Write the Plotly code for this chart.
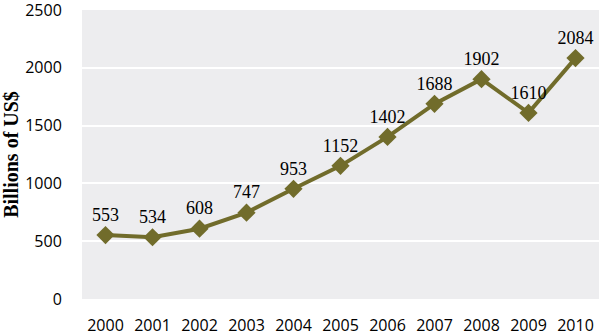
import plotly.graph_objects as go

years = ["2000", "2001", "2002", "2003", "2004", "2005", "2006", "2007", "2008", "2009", "2010"]
values = [553, 534, 608, 747, 953, 1152, 1402, 1688, 1902, 1610, 2084]
y_ticks = [0, 500, 1000, 1500, 2000, 2500]

color = "#716C2B"

fig = go.Figure()
fig.add_trace(go.Scatter(
    x=years, y=values, mode="lines+markers+text",
    line=dict(color=color, width=4),
    marker=dict(symbol="diamond", size=14, color=color),
    text=[str(v) for v in values], textposition="top center",
    textfont=dict(family="Liberation Serif", size=18, color="#000"),
    cliponaxis=False, showlegend=False,
))
fig.update_layout(
    width=600, height=336,
    margin=dict(l=82, r=1, t=10, b=37),
    paper_bgcolor="white", plot_bgcolor="#EDEDEF",
    font=dict(family="Open Sans", size=16, color="#000"),
)
fig.update_xaxes(type="category", range=[-0.5, 10.5], showgrid=False, automargin=False,
                 ticks="outside", ticklen=12, tickcolor="rgba(0,0,0,0)", tickfont=dict(size=16))
fig.update_yaxes(range=[0, 2500], tickvals=y_ticks, gridcolor="white", gridwidth=1.5,
                 automargin=False,
                 zeroline=False, ticks="outside", ticklen=16, tickcolor="rgba(0,0,0,0)",
                 ticklabeloverflow="allow", tickfont=dict(size=16),
                 title=dict(text="<b>Billions of US$</b>", standoff=8,
                            font=dict(family="Liberation Serif", size=20)))
fig.write_html("out.html")
